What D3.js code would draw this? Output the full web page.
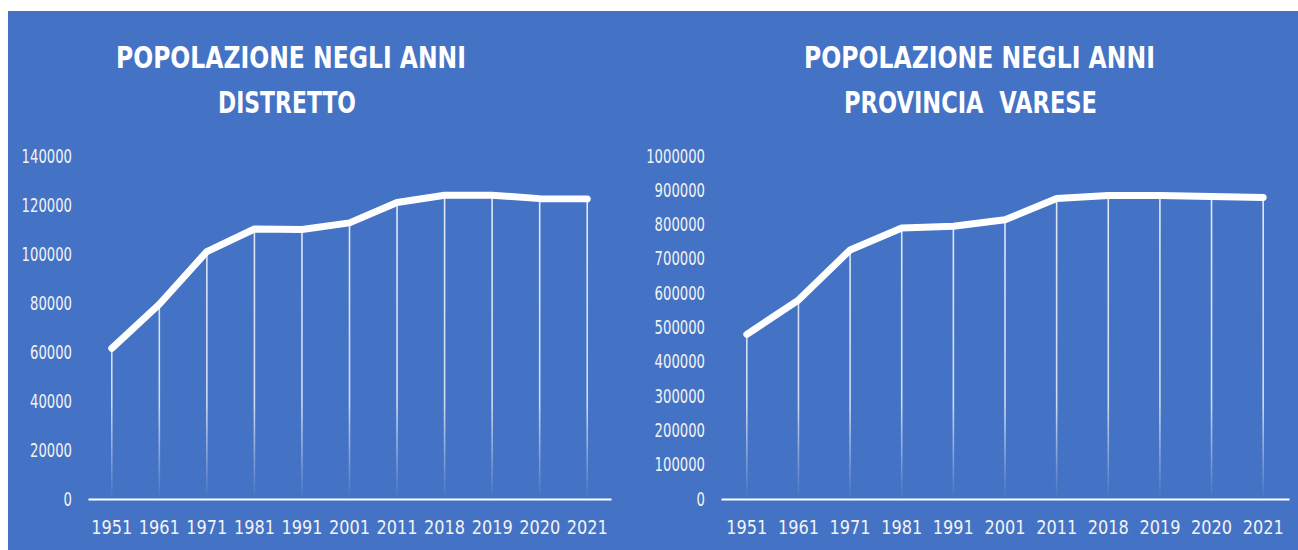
<!DOCTYPE html>
<html>
<head>
<meta charset="utf-8">
<script src="https://cdn.jsdelivr.net/npm/d3@7"></script>
<style>
  html, body { margin: 0; padding: 0; background: #ffffff; }
  svg { display: block; }
</style>
</head>
<body>
<svg id="chart" width="1298" height="550"></svg>
<script>
// ---- Data ----
const years = ["1951","1961","1971","1981","1991","2001","2011","2018","2019","2020","2021"];
const distretto = [61500, 79500, 101000, 110200, 110000, 112700, 121000, 124000, 124000, 122600, 122500];
const provincia = [480000, 580000, 726000, 790000, 795000, 814000, 876000, 885000, 885000, 882000, 879000];
const ticksDistretto = [0, 20000, 40000, 60000, 80000, 100000, 120000, 140000];
const ticksProvincia = [0, 100000, 200000, 300000, 400000, 500000, 600000, 700000, 800000, 900000, 1000000];
const titleDistretto = ["POPOLAZIONE NEGLI ANNI", "DISTRETTO"];
const titleProvincia = ["POPOLAZIONE NEGLI ANNI", "PROVINCIA  VARESE"];

const svg = d3.select("#chart");
const BLUE = "#4472C4";
const FONT = "'Liberation Sans Narrow', 'DejaVu Sans Condensed', 'Roboto Condensed', sans-serif";

svg.append("rect").attr("x", 8).attr("y", 11).attr("width", 1290).attr("height", 539).attr("fill", BLUE);

const defs = svg.append("defs");

function panel(cfg) {
  const g = svg.append("g");
  const x = d3.scaleBand().domain(years).range([cfg.x0, cfg.x1]).padding(0);
  const y = d3.scaleLinear().domain(cfg.domain).range([cfg.yBase, cfg.yTop]);
  const cx = d => x(d) + x.bandwidth() / 2;

  // gradient for drop lines
  const gid = "fade" + cfg.id;
  const grad = defs.append("linearGradient").attr("id", gid)
    .attr("gradientUnits", "userSpaceOnUse")
    .attr("x1", 0).attr("x2", 0).attr("y1", cfg.yTop).attr("y2", cfg.yBase);
  grad.append("stop").attr("offset", "0%").attr("stop-color", "#fff").attr("stop-opacity", 0.85);
  grad.append("stop").attr("offset", "72%").attr("stop-color", "#fff").attr("stop-opacity", 0.75);
  grad.append("stop").attr("offset", "100%").attr("stop-color", "#fff").attr("stop-opacity", 0);

  // title
  cfg.title.forEach((t, i) => {
    g.append("text")
      .attr("x", cfg.titleX[i]).attr("y", cfg.titleY[i])
      .attr("text-anchor", "middle")
      .attr("fill", "#ffffff")
      .attr("font-family", FONT)
      .attr("font-weight", 700)
      .attr("font-size", 30)
      .attr("textLength", cfg.titleW[i])
      .attr("lengthAdjust", "spacingAndGlyphs")
      .style("white-space", "pre")
      .text(t);
  });

  // y axis labels
  const ya = g.append("g").attr("transform", `translate(${cfg.x0},0)`)
    .call(d3.axisLeft(y).tickValues(cfg.ticks).tickSize(0).tickPadding(16).tickFormat(d3.format("d")));
  ya.select(".domain").remove();
  ya.selectAll("text").attr("fill", "#f2f2f2").attr("font-family", FONT).attr("font-size", 19)
    .attr("textLength", d => String(d).length * 8.4)
    .attr("lengthAdjust", "spacingAndGlyphs");

  // drop lines
  g.append("g").selectAll("line").data(years).join("line")
    .attr("x1", d => cx(d)).attr("x2", d => cx(d))
    .attr("y1", (d, i) => y(cfg.values[i])).attr("y2", cfg.yBase)
    .attr("stroke", `url(#${gid})`).attr("stroke-width", 1.6);

  // x axis
  const xa = g.append("g").attr("transform", `translate(0,${cfg.yBase})`)
    .call(d3.axisBottom(x).tickSize(0).tickSizeOuter(0).tickPadding(22));
  xa.select(".domain").attr("stroke", "#ffffff").attr("stroke-width", 2.2);
  xa.selectAll("text").attr("fill", "#f2f2f2").attr("font-family", FONT).attr("font-size", 19)
    .attr("textLength", 41)
    .attr("lengthAdjust", "spacingAndGlyphs");

  // main line
  const line = d3.line().x((d, i) => cx(years[i])).y(d => y(d));
  g.append("path").datum(cfg.values)
    .attr("d", line)
    .attr("fill", "none").attr("stroke", "#ffffff").attr("stroke-width", 7)
    .attr("stroke-linecap", "round").attr("stroke-linejoin", "round");
}

panel({
  id: "L", x0: 88, x1: 611, yBase: 499, yTop: 156, domain: [0, 140000],
  values: distretto, ticks: ticksDistretto, title: titleDistretto,
  titleX: [291, 287], titleY: [68, 113], titleW: [350, 138]
});
panel({
  id: "R", x0: 721, x1: 1289, yBase: 499, yTop: 156, domain: [0, 1000000],
  values: provincia, ticks: ticksProvincia, title: titleProvincia,
  titleX: [979.5, 970.5], titleY: [68, 113], titleW: [351, 253]
});
</script>
</body>
</html>
